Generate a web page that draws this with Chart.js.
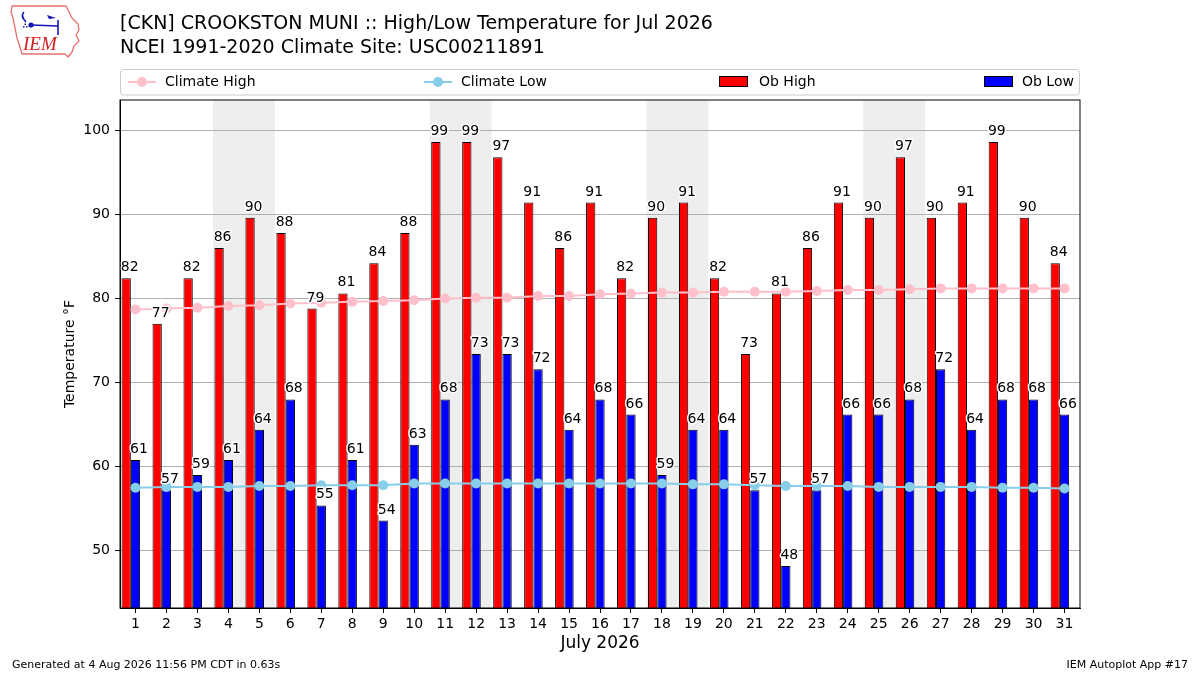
<!DOCTYPE html>
<html>
<head>
<meta charset="utf-8">
<script src="https://cdn.jsdelivr.net/npm/chart.js@4"></script>
<style>
  html, body { margin: 0; padding: 0; background: #fff; }
  #wrap { width: 1200px; height: 675px; }
</style>
</head>
<body>
<div id="wrap"><canvas id="chart" width="1200" height="675"></canvas></div>
<script>
// July 2026 daily obs and 1991-2020 climate normals (degrees F)
const days = ['1','2','3','4','5','6','7','8','9','10','11','12','13','14','15','16',
  '17','18','19','20','21','22','23','24','25','26','27','28','29','30','31'];
const obHigh = [82.4, 77.0, 82.4, 86.0, 89.6, 87.8, 78.8, 80.6, 84.2, 87.8, 98.6, 98.6, 96.8, 91.4, 86.0, 91.4,
  82.4, 89.6, 91.4, 82.4, 73.4, 80.6, 86.0, 91.4, 89.6, 96.8, 89.6, 91.4, 98.6, 89.6, 84.2];
const obLow = [60.8, 57.2, 59.0, 60.8, 64.4, 68.0, 55.4, 60.8, 53.6, 62.6, 68.0, 73.4, 73.4, 71.6, 64.4, 68.0,
  66.2, 59.0, 64.4, 64.4, 57.2, 48.2, 57.2, 66.2, 66.2, 68.0, 71.6, 64.4, 68.0, 68.0, 66.2];
const climateHigh = [78.7, 78.8, 78.9, 79.1, 79.2, 79.4, 79.5, 79.6, 79.7, 79.8, 80.0, 80.1, 80.1, 80.3, 80.3, 80.5,
  80.6, 80.7, 80.7, 80.8, 80.8, 80.8, 80.9, 81.0, 81.0, 81.1, 81.2, 81.2, 81.2, 81.2, 81.2];
const climateLow = [57.5, 57.6, 57.6, 57.6, 57.7, 57.7, 57.8, 57.8, 57.8, 58.0, 58.0, 58.0, 58.0, 58.0, 58.0, 58.0,
  58.0, 58.0, 57.9, 57.9, 57.8, 57.7, 57.7, 57.7, 57.6, 57.6, 57.6, 57.6, 57.5, 57.5, 57.4];
const weekendDays = ['4', '5', '11', '12', '18', '19', '25', '26'];
const yTicks = [50, 60, 70, 80, 90, 100];
const yMin = 43.2;
const yMax = 103.6;

Chart.defaults.font.family = "'DejaVu Sans', sans-serif";
Chart.defaults.font.size = 14;
Chart.defaults.color = '#000';

function drawLogo(ctx) {
  ctx.save();
  // rough Iowa outline
  ctx.strokeStyle = '#e87070';
  ctx.lineWidth = 1.3;
  ctx.lineJoin = 'round';
  ctx.beginPath();
  ctx.moveTo(12, 6);
  ctx.lineTo(66, 6);
  ctx.lineTo(69, 12);
  ctx.lineTo(72, 18);
  ctx.lineTo(78, 24);
  ctx.lineTo(79, 30);
  ctx.lineTo(76, 35);
  ctx.lineTo(79, 41);
  ctx.lineTo(74, 46);
  ctx.lineTo(72, 52);
  ctx.lineTo(68, 57);
  ctx.lineTo(65, 54);
  ctx.lineTo(22, 54);
  ctx.lineTo(20, 47);
  ctx.lineTo(17, 38);
  ctx.lineTo(15, 28);
  ctx.lineTo(13, 18);
  ctx.lineTo(11, 12);
  ctx.closePath();
  ctx.stroke();
  // weather vane
  ctx.strokeStyle = '#1414b4';
  ctx.fillStyle = '#1414b4';
  ctx.lineWidth = 1.6;
  ctx.beginPath();
  ctx.moveTo(31, 25);
  ctx.lineTo(58, 26);
  ctx.moveTo(58, 20);
  ctx.lineTo(58, 35);
  ctx.moveTo(26, 22);
  ctx.quadraticCurveTo(20, 16, 24, 12);
  ctx.stroke();
  ctx.beginPath();
  ctx.moveTo(47, 15);
  ctx.lineTo(56, 18);
  ctx.lineTo(49, 19);
  ctx.closePath();
  ctx.fill();
  ctx.beginPath();
  ctx.arc(31, 25, 2.6, 0, Math.PI * 2);
  ctx.fill();
  ctx.fillRect(23, 26, 1.5, 1.5);
  ctx.fillRect(26, 26, 1.5, 1.5);
  ctx.fillRect(24.5, 23.5, 1.5, 1.5);
  // IEM text
  ctx.fillStyle = '#d02020';
  ctx.font = "italic 19px 'Liberation Serif', serif";
  ctx.textAlign = 'left';
  ctx.textBaseline = 'alphabetic';
  ctx.fillText('IEM', 23, 50);
  ctx.restore();
}

const decor = {
  id: 'decor',
  beforeDraw(chart) {
    const { ctx, chartArea: a, scales: { x } } = chart;
    const half = (x.getPixelForValue(1) - x.getPixelForValue(0)) / 2;
    ctx.save();
    ctx.fillStyle = '#eeeeee';
    ctx.beginPath();
    weekendDays.forEach(d => {
      const px = x.getPixelForValue(days.indexOf(d));
      ctx.rect(px - half, a.top, half * 2, a.bottom - a.top);
    });
    ctx.fill();
    ctx.restore();
  },
  afterDatasetsDraw(chart) {
    const { ctx } = chart;
    ctx.save();
    ctx.font = "14px 'DejaVu Sans'";
    ctx.textAlign = 'center';
    ctx.textBaseline = 'alphabetic';
    ctx.lineJoin = 'round';
    [0, 1].forEach(i => {
      const meta = chart.getDatasetMeta(i);
      const vals = chart.data.datasets[i].data;
      meta.data.forEach((bar, j) => {
        const txt = String(Math.round(vals[j]));
        const tx = bar.x + 3.5;
        const ty = bar.y - 7;
        ctx.strokeStyle = '#fff';
        ctx.lineWidth = 3;
        ctx.strokeText(txt, tx, ty);
        ctx.fillStyle = '#000';
        ctx.fillText(txt, tx, ty);
      });
    });
    ctx.restore();
  },
  afterDraw(chart) {
    const { ctx, chartArea: a } = chart;
    ctx.save();
    // plot frame
    ctx.strokeStyle = '#000';
    ctx.lineWidth = 1;
    ctx.strokeRect(a.left, a.top, a.right - a.left, a.bottom - a.top);

    // titles
    ctx.fillStyle = '#000';
    ctx.textAlign = 'left';
    ctx.textBaseline = 'middle';
    ctx.font = "19px 'DejaVu Sans'";
    ctx.fillText('[CKN] CROOKSTON MUNI :: High/Low Temperature for Jul 2026', 120, 24);
    ctx.fillText('NCEI 1991-2020 Climate Site: USC00211891', 120, 48);

    // axis titles
    ctx.font = "17px 'DejaVu Sans'";
    ctx.textAlign = 'center';
    ctx.fillText('July 2026', (a.left + a.right) / 2, 644);
    ctx.save();
    ctx.translate(70, (a.top + a.bottom) / 2);
    ctx.rotate(-Math.PI / 2);
    ctx.font = "14px 'DejaVu Sans'";
    ctx.fillText('Temperature \u00B0F', 0, 0);
    ctx.restore();

    // legend
    const ly = 82;
    ctx.fillStyle = 'rgba(255,255,255,0.8)';
    ctx.strokeStyle = '#cccccc';
    ctx.beginPath();
    ctx.roundRect(120.5, 69.5, 959, 25.5, 3);
    ctx.fill();
    ctx.stroke();
    ctx.font = "14px 'DejaVu Sans'";
    ctx.textAlign = 'left';
    ctx.textBaseline = 'middle';
    const lineItems = [
      { ds: chart.data.datasets[3], x: 128 },
      { ds: chart.data.datasets[4], x: 424 }
    ];
    lineItems.forEach(it => {
      ctx.strokeStyle = it.ds.borderColor;
      ctx.lineWidth = 2;
      ctx.beginPath();
      ctx.moveTo(it.x, ly);
      ctx.lineTo(it.x + 28, ly);
      ctx.stroke();
      ctx.fillStyle = it.ds.borderColor;
      ctx.beginPath();
      ctx.arc(it.x + 14, ly, 5, 0, Math.PI * 2);
      ctx.fill();
      ctx.fillStyle = '#000';
      ctx.fillText(it.ds.label, it.x + 37, ly);
    });
    const barItems = [
      { ds: chart.data.datasets[0], x: 719, tx: 759 },
      { ds: chart.data.datasets[1], x: 984, tx: 1022 }
    ];
    barItems.forEach(it => {
      ctx.fillStyle = it.ds.backgroundColor;
      ctx.fillRect(it.x, 76.5, 29, 10);
      ctx.strokeStyle = '#000';
      ctx.lineWidth = 1;
      ctx.strokeRect(it.x + 0.5, 76.5, 28, 10);
      ctx.fillStyle = '#000';
      ctx.fillText(it.ds.label, it.tx, ly);
    });

    // footer
    ctx.font = "11px 'DejaVu Sans'";
    ctx.fillText('Generated at 4 Aug 2026 11:56 PM CDT in 0.63s', 12, 665);
    ctx.textAlign = 'right';
    ctx.fillText('IEM Autoplot App #17', 1188, 665);
    ctx.restore();

    drawLogo(ctx);
  }
};

new Chart(document.getElementById('chart'), {
  type: 'bar',
  data: {
    labels: days,
    datasets: [
      { label: 'Ob High', data: obHigh, backgroundColor: '#ff0000', borderColor: '#000', borderWidth: 1, order: 1 },
      { label: 'Ob Low', data: obLow, backgroundColor: '#0000ff', borderColor: '#000', borderWidth: 1, order: 1 },
      // empty slot so the high/low pair sits just left of each tick
      { label: '', data: days.map(() => null), order: 1 },
      {
        type: 'line', label: 'Climate High', data: climateHigh,
        borderColor: '#ffc0cb', backgroundColor: '#ffc0cb', borderWidth: 2,
        pointRadius: 5, pointBorderWidth: 0, pointBackgroundColor: '#ffc0cb', order: 0
      },
      {
        type: 'line', label: 'Climate Low', data: climateLow,
        borderColor: '#87ceeb', backgroundColor: '#87ceeb', borderWidth: 2,
        pointRadius: 5, pointBorderWidth: 0, pointBackgroundColor: '#87ceeb', order: 0
      }
    ]
  },
  options: {
    responsive: false,
    animation: false,
    categoryPercentage: 0.9,
    barPercentage: 1.0,
    layout: { padding: { left: 0, right: 120, top: 100, bottom: 0 } },
    plugins: {
      legend: { display: false },
      tooltip: { enabled: false }
    },
    scales: {
      x: {
        offset: true,
        grid: { display: true, drawOnChartArea: false, offset: false, tickLength: 5, tickColor: '#000' },
        border: { display: true, color: '#000' },
        ticks: { padding: 3, maxRotation: 0, autoSkip: false, font: { size: 14 } },
        afterFit(scale) { scale.height = 67; }
      },
      y: {
        min: yMin,
        max: yMax,
        grid: { color: '#b0b0b0', tickLength: 5, tickColor: '#000' },
        border: { display: true, color: '#000' },
        ticks: { padding: 5, font: { size: 14 } },
        afterBuildTicks(scale) { scale.ticks = yTicks.map(v => ({ value: v })); },
        afterFit(scale) { scale.width = 120; }
      }
    }
  },
  plugins: [decor]
});
</script>
</body>
</html>
